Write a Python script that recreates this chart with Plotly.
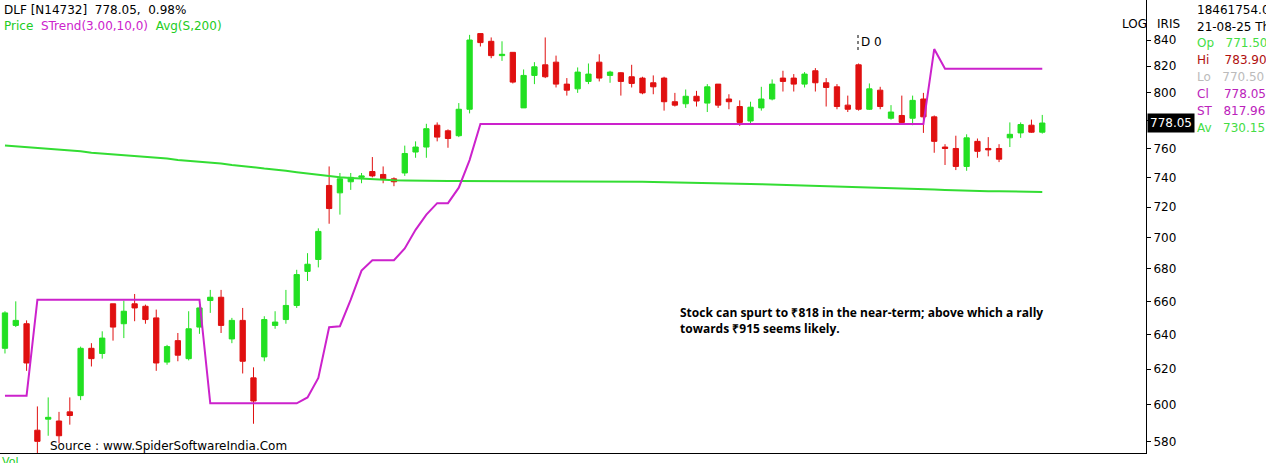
import plotly.graph_objects as go
import math

# OHLC (DLF daily)
opens = [632, 645.5, 646.5, 586, 592, 591, 596, 605, 632, 629,
         658.5, 646.5, 658.5, 657, 650, 624, 636.5, 626, 644.5, 660.5,
         662.5, 637.5, 648.5, 615, 627, 645.5, 649, 657.5, 678.5, 686,
         734.5, 729.5, 737, 740, 744, 742, 739, 743, 757.5, 761,
         776.5, 772.5, 769, 788, 845, 839, 828, 830.5, 789, 813,
         821, 823, 806.5, 803, 808.5, 823, 813, 815, 812, 811,
         807.5, 811, 793.5, 792, 797.5, 792.5, 806.5, 795.5, 790, 779.5,
         789, 795.5, 811, 811, 806.5, 816.5, 807.5, 804.5, 791, 821,
         788, 802, 781.5, 783.5, 781.5, 795.5, 782.5, 761, 760, 747.5,
         765, 760, 760, 767.5, 771, 776.5, 771.5]
highs = [654, 660, 648.5, 599, 604, 596, 604, 633, 635, 642,
         658.5, 660.5, 664.5, 658, 655, 634, 641, 654, 657, 667,
         667, 650, 656, 621, 651, 654, 667, 679.5, 690, 706,
         747.5, 743, 743, 743, 754, 747.5, 740, 762, 765, 777.5,
         778.5, 773.5, 792.5, 844, 845, 842, 839, 830.5, 817.5, 823,
         842, 828, 811, 819, 822, 829, 816.5, 815.5, 821, 812,
         813, 812, 800, 802.5, 801.5, 806.5, 806.5, 799, 794.5, 793.5,
         804.5, 810, 816.5, 814, 815.5, 818.5, 811, 806.5, 798, 822,
         807, 804.5, 791, 798, 798, 800, 783.5, 763, 769, 770,
         767, 768, 763, 778.5, 778.5, 780.5, 783.9]
lows = [629, 644.5, 619, 573, 583, 579, 589, 602.5, 621.5, 626,
        636.5, 638, 648, 646.5, 619, 622.5, 624.5, 625, 640.5, 653,
        641, 635, 617.5, 589.5, 624.5, 643.5, 646.5, 656, 672.5, 681,
        709, 715, 731.5, 736, 740, 736, 734, 741, 753.5, 753.5,
        765, 760.5, 768, 785, 835, 826, 824, 807, 789, 806.5,
        811, 804, 798, 800, 806.5, 808.5, 807.5, 798, 804, 799,
        799, 787, 790, 789, 790, 786, 789, 788, 776, 777,
        787, 794.5, 801, 801, 804, 801, 790, 788, 786, 787,
        787.5, 788, 780.5, 777.5, 776.5, 771, 757, 748.5, 745, 744.5,
        753.5, 754.5, 750.5, 761, 767.5, 771, 770.5]
closes = [653, 648.5, 623.5, 580, 593, 583, 594, 632, 626, 638,
          644.5, 654, 656, 649, 623.5, 633, 628, 643.5, 656, 662.5,
          645.5, 648.5, 624.5, 602, 649, 647.5, 657.5, 676.5, 683, 704,
          719, 739, 740, 741, 741, 739, 737, 756.5, 761, 774,
          768, 767, 788, 840, 838, 828, 829, 808, 813, 819.5,
          812, 806.5, 802, 815.5, 814, 811, 815.5, 808.5, 807, 800,
          804.5, 793.5, 791, 797.5, 794, 804.5, 791, 793.5, 778.5, 789.5,
          795.5, 806.5, 808.5, 806.5, 814, 807.5, 804, 790, 788, 788,
          803, 790, 786, 778.5, 794.5, 782.5, 765, 760, 747.5, 767.5,
          758, 759, 752.5, 770, 777, 771.5, 778.05]

strend = [605, 605, 605, 661, 661, 661, 661, 661, 661, 661,
          661, 661, 661, 661, 661, 661, 661, 661, 661, 600.7,
          600.7, 600.7, 600.7, 600.7, 600.7, 600.7, 600.7, 600.7, 604, 615,
          644.4, 645, 661, 679, 685.5, 685.5, 685.5, 693, 705, 715,
          722.6, 722.6, 733, 751.9, 777.3, 777.3, 777.3, 777.3, 777.3, 777.3,
          777.3, 777.3, 777.3, 777.3, 777.3, 777.3, 777.3, 777.3, 777.3, 777.3,
          777.3, 777.3, 777.3, 777.3, 777.3, 777.3, 777.3, 777.3, 777.3, 777.3,
          777.3, 777.3, 777.3, 777.3, 777.3, 777.3, 777.3, 777.3, 777.3, 777.3,
          777.3, 777.3, 777.3, 777.3, 777.3, 777.3, 833, 818, 818, 818,
          818, 818, 818, 818, 818, 818, 818]

avg200 = [762, 761.5, 761, 760, 759.5, 759, 758.5, 758, 757, 756.5,
          756, 755.5, 755, 754, 753.5, 753, 752, 751.5, 751, 750,
          749.5, 748.5, 748, 747, 746, 745.5, 744.5, 743.5, 742.5, 741.5,
          740.5, 740, 739.5, 739, 738.5, 738, 738, 737.8, 737.6, 737.5,
          737.5, 737.5, 737.5, 737.5, 737.5, 737.5, 737.5, 737.5, 737.5, 737.5,
          737.5, 737.3, 737.3, 737.2, 737.2, 737.1, 737, 737, 737, 737,
          736.9, 736.8, 736.7, 736.6, 736.5, 736.3, 736.1, 735.9, 735.7, 735.5,
          735.3, 735.1, 735, 734.8, 734.6, 734.4, 734.2, 734, 733.8, 733.6,
          733.4, 733.2, 733, 732.7, 732.4, 732.1, 731.8, 731.5, 731.2, 731,
          730.8, 730.6, 730.5, 730.4, 730.3, 730.2, 730.15]

tick_vals = [580, 600, 620, 640, 660, 680, 700, 720, 740, 760, 780, 800, 820, 840]

GREEN = "#22e022"
RED = "#e01010"
MAG = "#cc22cc"
idx = list(range(len(closes)))

# plot area in page pixels
PW, PH = 1146, 453

fig = go.Figure()
fig.add_trace(go.Scatter(x=idx, y=avg200, mode="lines", line=dict(color="#33dd33", width=2), hoverinfo="skip"))
fig.add_trace(go.Scatter(x=idx, y=strend, mode="lines", line=dict(color=MAG, width=2), hoverinfo="skip"))
fig.add_trace(go.Candlestick(
    x=idx, open=opens, high=highs, low=lows, close=closes,
    increasing=dict(line=dict(color=GREEN, width=1), fillcolor=GREEN),
    decreasing=dict(line=dict(color=RED, width=1), fillcolor=RED),
    whiskerwidth=0))

anns = [
    dict(x=2, y=1, text="DLF [N14732]  778.05,  0.98%"),
    dict(x=2, y=17, text="<span style='color:#22cc22'>Price</span>  <span style='color:#cc22cc'>STrend(3.00,10,0)</span>  "
                         "<span style='color:#22cc22'>Avg(S,200)</span>"),
    dict(x=1120, y=15, text="LOG"), dict(x=1155, y=15, text="IRIS"),
    dict(x=1195, y=1, text="18461754.00"), dict(x=1195, y=18, text="21-08-25 Th"),
    dict(x=1195, y=34, text="<span style='color:#44dd44'>Op   771.50</span>"),
    dict(x=1195, y=51, text="<span style='color:#b01010'>Hi    783.90</span>"),
    dict(x=1195, y=68, text="<span style='color:#bbbbbb'>Lo   770.50</span>"),
    dict(x=1195, y=85, text="<span style='color:#bb22bb'>Cl    778.05</span>"),
    dict(x=1195, y=102, text="<span style='color:#bb22bb'>ST   817.96</span>"),
    dict(x=1195, y=119, text="<span style='color:#44dd44'>Av   730.15</span>"),
    dict(x=1147, y=113, text="<span style='color:white'>778.05</span>", bgcolor="black", borderpad=2),
    dict(x=859, y=33, text="D 0"),
    dict(x=678, y=302, text="<b>Stock can spurt to ₹818 in the near-term; above which a rally<br>towards ₹915 seems likely.</b>",
         font=dict(size=12, family="Open Sans", color="black"), align="left"),
    dict(x=48, y=437, text="Source : www.SpiderSoftwareIndia.Com"),
    dict(x=0, y=453, text="<span style='color:#22cc22'>Vol</span>", font=dict(size=11)),
]
annotations = []
for a in anns:
    a = dict(a, xref="paper", yref="paper", xanchor="left", yanchor="top",
             x=a["x"] / PW, y=1 - a["y"] / PH)
    a.setdefault("font", dict(size=12, color="black"))
    a["showarrow"] = False
    annotations.append(a)

fig.update_layout(
    width=1266, height=463,
    margin=dict(l=0, r=1266 - PW, t=0, b=463 - PH),
    paper_bgcolor="white", plot_bgcolor="white",
    showlegend=False,
    font=dict(family="DejaVu Sans", size=12, color="black"),
    annotations=annotations,
    shapes=[dict(type="line", xref="paper", yref="paper", x0=858 / PW, x1=858 / PW,
                 y0=1 - 50 / PH, y1=1 - 33 / PH, line=dict(color="black", width=1, dash="dot"))],
)
fig.update_xaxes(range=[-0.46, 105.6], showgrid=False, zeroline=False, showticklabels=False,
                 rangeslider_visible=False, showline=True, linecolor="black")
fig.update_yaxes(type="log", range=[math.log10(573.8), math.log10(871.6)], side="right",
                 tickvals=tick_vals, ticks="outside", ticklen=4, tickcolor="black",
                 showgrid=False, zeroline=False, showline=True, linecolor="black",
                 tickfont=dict(size=12, family="DejaVu Sans"))

fig.write_html("out.html", config={"displayModeBar": False},
               post_script="document.body.style.margin='0';")
